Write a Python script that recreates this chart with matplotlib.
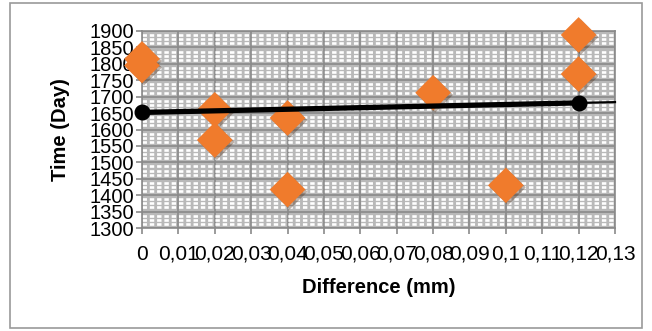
import matplotlib
matplotlib.use("Agg")
import matplotlib.pyplot as plt
import matplotlib.patheffects as pe
from matplotlib.patches import Rectangle
from matplotlib.ticker import MultipleLocator
import numpy as np

# measured points (orange diamonds)
diff_mm = [0, 0, 0.02, 0.02, 0.04, 0.04, 0.08, 0.10, 0.12, 0.12]
time_day = [1815, 1795, 1660, 1568, 1635, 1417, 1712, 1430, 1888, 1769]

# black series (2 points) + its linear trendline
line_x = [0, 0.12]
line_y = [1652, 1681]

x_ticks = [0, 0.01, 0.02, 0.03, 0.04, 0.05, 0.06, 0.07, 0.08, 0.09, 0.10, 0.11, 0.12, 0.13]
x_ticklabels = ["0", "0,01", "0,02", "0,03", "0,04", "0,05", "0,06", "0,07",
                "0,08", "0,09", "0,1", "0,11", "0,12", "0,13"]
y_ticks = list(range(1300, 1901, 50))

plt.rcParams['font.family'] = ['Liberation Sans', 'DejaVu Sans']
plt.rcParams['lines.scale_dashes'] = False

fig = plt.figure(figsize=(6.52, 3.31), dpi=100)
# outer chart frame
fig.patches.append(Rectangle((10 / 652, 1 - 328 / 331), 632 / 652, 325 / 331,
                             transform=fig.transFigure, fill=False,
                             edgecolor="#9a9a9a", linewidth=1.2))

ax = fig.add_axes([142 / 652, 1 - 228 / 331, 473 / 652, 197 / 331])
ax.set_facecolor("#b9b9b9")
ax.set_xlim(0, 0.13)
ax.set_ylim(1300, 1900)

ax.set_xticks(x_ticks)
ax.set_xticklabels(x_ticklabels, family=['Liberation Sans Narrow', 'Liberation Sans'], fontsize=15)
ax.set_yticks(y_ticks)
ax.set_yticklabels([str(v) for v in y_ticks], fontsize=14.5)
ax.yaxis.set_minor_locator(MultipleLocator(12.5))

# white dashed minor lines on grey -> the small white "bricks" of the reference
ax.yaxis.grid(True, which="minor", color="white", linewidth=1.9, linestyle=(0, (3.2, 2.05)))
ax.grid(which="major", color="#8a8a8a", linewidth=1.2)
ax.set_axisbelow(True)
ax.tick_params(which="major", direction="out", length=4, width=1.2, color="#8a8a8a", pad=2)
ax.tick_params(which="minor", length=0)
ax.tick_params(axis="x", pad=8)
for s in ax.spines.values():
    s.set_color("#8a8a8a")
    s.set_linewidth(1.2)

sc = ax.scatter(diff_mm, time_day, marker="D", s=330, color="#f07b2c", linewidths=0,
                zorder=4, clip_on=False)
sc.set_path_effects([pe.SimplePatchShadow(offset=(1.5, -1.5), alpha=0.35), pe.Normal()])

# trendline extended to the end of the axis
k, b = np.polyfit(line_x, line_y, 1)
tx = np.array([0, 0.13])
ax.plot(tx, k * tx + b, color="black", linewidth=1.6, zorder=5, clip_on=False)
ax.plot(line_x, line_y, color="black", linewidth=3.8, marker="o", markersize=10.5,
        zorder=6, clip_on=False)

ax.set_xlabel("Difference (mm)", fontsize=14.5, fontweight="bold", labelpad=10)
ax.set_ylabel("Time (Day)", fontsize=14.5, fontweight="bold", labelpad=14)

fig.savefig("out.png", dpi=100)
